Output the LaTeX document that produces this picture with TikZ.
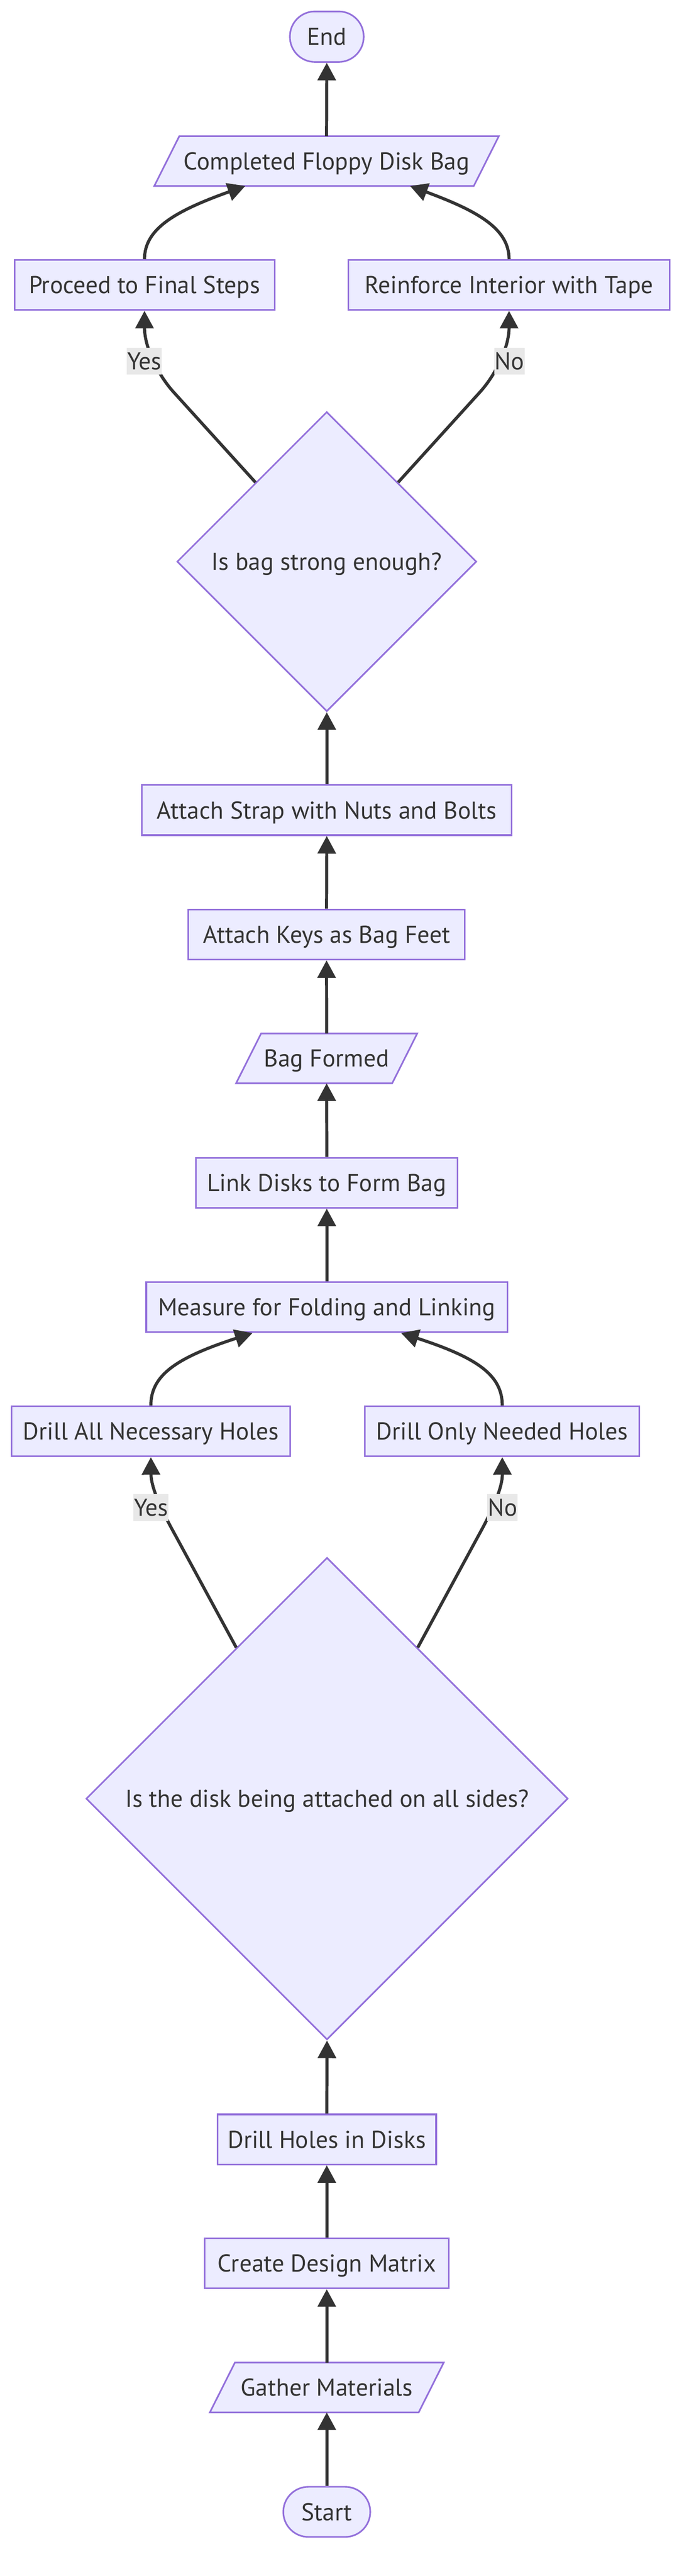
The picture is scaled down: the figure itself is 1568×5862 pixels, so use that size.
\documentclass[tikz,border=0pt]{standalone}
\usepackage{fontspec}
\setmainfont{PT Sans}
\usetikzlibrary{shapes.geometric,arrows.meta,calc,backgrounds}
\definecolor{boxfill}{HTML}{ECECFF}
\definecolor{bord}{HTML}{9370DB}
\definecolor{lin}{HTML}{333333}
\definecolor{txt}{HTML}{333333}
\definecolor{lblfill}{HTML}{E8E8E8}
\newcommand{\nodefont}{\fontsize{55.5}{66}\selectfont}
\tikzset{
  txtbase/.style={text=txt, font=\nodefont, text height=39pt, text depth=0pt},
  box/.style={txtbase, draw=bord, fill=boxfill, line width=3.7pt, minimum height=114pt, inner sep=0pt},
  stadium/.style={box, rounded corners=57pt},
  para/.style={txtbase, minimum height=113pt, inner sep=0pt},
  paraback/.style={draw=bord, fill=boxfill, line width=3.7pt},
  dec/.style={txtbase, diamond, draw=bord, fill=boxfill, line width=3.7pt, inner sep=0pt},
  edge/.style={draw=lin, line width=7pt, -{Triangle[length=40pt,width=41pt]}},
  elabel/.style={txtbase, fill=lblfill, inner xsep=1pt, inner ysep=0pt, minimum height=61pt}
}
\begin{document}
\begin{tikzpicture}[x=1pt,y=-1pt]
\useasboundingbox (0,0) rectangle (1568,5862);
\begin{scope}[on background layer]
\fill[white] (0,0) rectangle (1568,5862);
\end{scope}

% nodes
\node[stadium, minimum width=168pt, minimum height=115pt] (end) at (744,83.5) {End};
\node[para, minimum width=727pt] (cfdb) at (743.5,366.5) {Completed Floppy Disk Bag};
\node[box, minimum width=592pt] (proceed) at (329,648.5) {Proceed to Final Steps};
\node[box, minimum width=732pt] (reinforce) at (1159,648.5) {Reinforce Interior with Tape};
\node[dec, minimum width=682pt, minimum height=682pt] (d1) at (744,1278) {Is bag strong enough?};
\node[box, minimum width=842pt] (strap) at (744,1843.5) {Attach Strap with Nuts and Bolts};
\node[box, minimum width=629pt] (keys) at (743.5,2126.5) {Attach Keys as Bag Feet};
\node[para, minimum width=355pt] (bag) at (743.7,2408.5) {Bag Formed};
\node[box, minimum width=596pt] (link) at (744,2691.5) {Link Disks to Form Bag};
\node[box, minimum width=822pt] (measure) at (744,2974.5) {Measure for Folding and Linking};
\node[box, minimum width=635pt] (dall) at (343.5,3257) {Drill All Necessary Holes};
\node[box, minimum width=625pt] (donly) at (1143.5,3257) {Drill Only Needed Holes};
\node[dec, minimum width=1097pt, minimum height=1097pt] (d2) at (744.5,4093) {Is the disk being attached on all sides?};
\node[box, minimum width=498pt] (dholes) at (744,4868.5) {Drill Holes in Disks};
\node[box, minimum width=556pt] (create) at (744,5150.5) {Create Design Matrix};
\node[para, minimum width=475pt] (gather) at (744,5433) {Gather Materials};
\node[stadium, minimum width=198pt, minimum height=114pt] (start) at (744,5716) {Start};

% parallelogram bodies
\begin{scope}[on background layer]
\foreach \n in {cfdb,bag,gather}{
  \path[paraback] ($(\n.north west)+(28.5,0)$) -- ($(\n.north east)+(28.5,0)$)
     -- ($(\n.south east)+(-28.5,0)$) -- ($(\n.south west)+(-28.5,0)$) -- cycle;
}
\end{scope}

% straight edges
\draw[edge] (start.north) -- (gather.south);
\draw[edge] (gather.north) -- (create.south);
\draw[edge] (create.north) -- (dholes.south);
\draw[edge] (dholes.north) -- (d2.south);
\draw[edge] (measure.north) -- (link.south);
\draw[edge] (link.north) -- (bag.south);
\draw[edge] (bag.north) -- (keys.south);
\draw[edge] (keys.north) -- (strap.south);
\draw[edge] (strap.north) -- (d1.south);
\draw[edge] (cfdb.north) -- (end.south);

% decision edges
\draw[edge] (d2.121) -- (400,3495) .. controls (375,3450) and (344,3390) .. (dall.south);
\draw[edge] (d2.59) -- (1089,3495) .. controls (1114,3450) and (1144,3390) .. (donly.south);
\draw[edge] (d1.132) -- (395,892) .. controls (359,852) and (329,790) .. (proceed.south);
\draw[edge] (d1.48) -- (1093,892) .. controls (1129,852) and (1159,790) .. (reinforce.south);

% merging edges
\draw[edge] (dall.north) .. controls (343.5,3130) and (400,3090) .. ($(measure.south)+(-169,0)$);
\draw[edge] (donly.north) .. controls (1143.5,3130) and (1088,3090) .. ($(measure.south)+(169,0)$);
\draw[edge] (proceed.north) .. controls (329,520) and (400,480) .. ($(cfdb.south)+(-185,0)$);
\draw[edge] (reinforce.north) .. controls (1159,520) and (1087,480) .. ($(cfdb.south)+(190,0)$);

% edge labels
\node[elabel] (yes1) at (328.5,821.5) {Yes};
\node[elabel] (no1) at (1160,821.5) {No};
\node[elabel] (yes2) at (344,3430) {Yes};
\node[elabel] (no2) at (1144,3430) {No};
\end{tikzpicture}
\end{document}
